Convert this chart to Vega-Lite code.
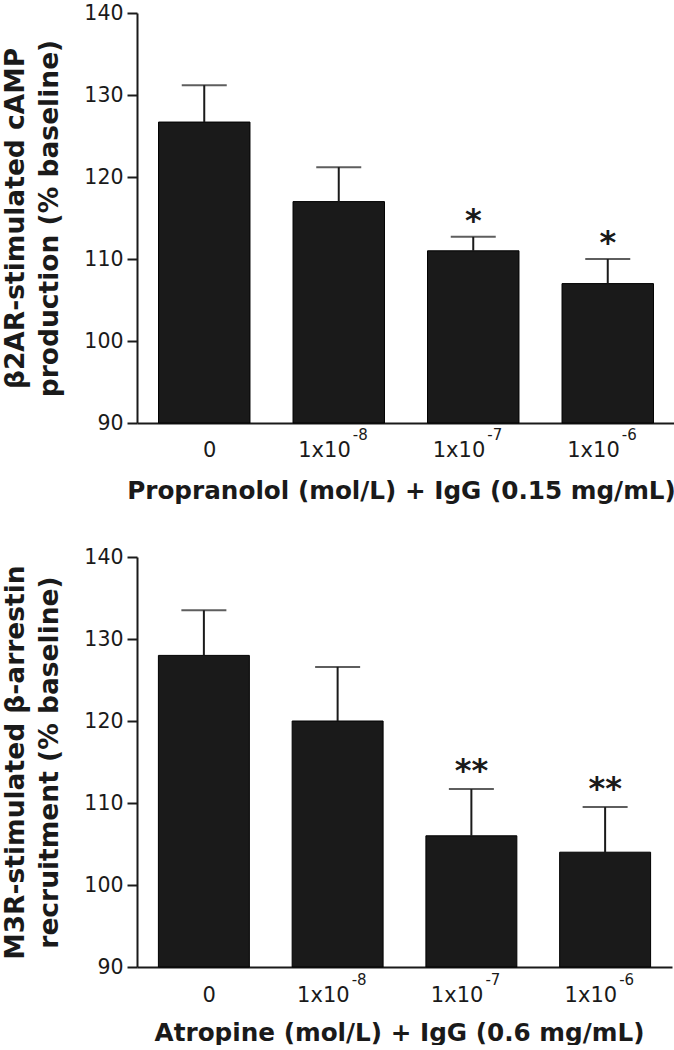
{
  "$schema": "https://vega.github.io/schema/vega-lite/v6.json",
  "padding": {"left": 2, "top": 3, "right": 0, "bottom": 0},
  "background": "white",
  "config": {
    "font": "DejaVu Sans",
    "view": {"stroke": null},
    "axis": {
      "domainColor": "#1a1a1a", "domainWidth": 2, "tickColor": "#1a1a1a", "tickWidth": 2,
      "labelColor": "#1a1a1a", "titleColor": "#1a1a1a",
      "labelFont": "DejaVu Sans", "titleFont": "DejaVu Sans",
      "labelFontSize": 20.5, "titleFontSize": 24.7, "titleFontWeight": "bold", "grid": false
    },
    "concat": {"spacing": 44}
  },
  "datasets": {
    "top": [
      {"dose": "0", "base": "0", "exp": "", "mean": 126.7, "upper": 131.2, "sig": ""},
      {"dose": "1x10^-8", "base": "1x10", "exp": "-8", "mean": 117.0, "upper": 121.2, "sig": ""},
      {"dose": "1x10^-7", "base": "1x10", "exp": "-7", "mean": 111.0, "upper": 112.7, "sig": "*"},
      {"dose": "1x10^-6", "base": "1x10", "exp": "-6", "mean": 107.0, "upper": 110.0, "sig": "*"}
    ],
    "bottom": [
      {"dose": "0", "base": "0", "exp": "", "mean": 128.0, "upper": 133.5, "sig": ""},
      {"dose": "1x10^-8", "base": "1x10", "exp": "-8", "mean": 120.0, "upper": 126.6, "sig": ""},
      {"dose": "1x10^-7", "base": "1x10", "exp": "-7", "mean": 106.0, "upper": 111.7, "sig": "**"},
      {"dose": "1x10^-6", "base": "1x10", "exp": "-6", "mean": 104.0, "upper": 109.5, "sig": "**"}
    ]
  },
  "vconcat": [
    {
      "width": 538, "height": 410,
      "data": {"name": "top"},
      "encoding": {
        "x": {"field": "dose", "type": "nominal", "sort": null,
          "scale": {"paddingInner": 0.32, "paddingOuter": 0.16},
          "axis": {"title": "Propranolol (mol/L) + IgG (0.15 mg/mL)", "labels": false, "ticks": false, "titlePadding": 55, "titleX": 264}}
      },
      "layer": [
        {"mark": {"type": "bar", "color": "#1a1a1a", "stroke": "#000", "strokeWidth": 1},
         "encoding": {"y": {"field": "mean", "type": "quantitative",
           "scale": {"domain": [90, 140], "nice": false, "zero": false},
           "axis": {"title": ["β2AR-stimulated cAMP", "production (% baseline)"], "titleFontSize": 26.5, "values": [90, 100, 110, 120, 130, 140], "tickSize": 10, "titleLineHeight": 34, "titlePadding": 20, "labelPadding": 4}},
           "y2": {"datum": 90}}},
        {"mark": {"type": "rule", "color": "#1a1a1a", "strokeWidth": 2},
         "encoding": {"y": {"field": "mean", "type": "quantitative"}, "y2": {"field": "upper"}}},
        {"mark": {"type": "tick", "color": "#1a1a1a", "size": 45, "thickness": 2},
         "encoding": {"y": {"field": "upper", "type": "quantitative"}}},
        {"mark": {"type": "text", "fontWeight": "bold", "fontSize": 32, "baseline": "alphabetic", "dy": -6, "color": "#1a1a1a"},
         "encoding": {"y": {"field": "upper", "type": "quantitative"}, "text": {"field": "sig"}}},
        {"mark": {"type": "text", "fontSize": 21, "align": "right", "baseline": "alphabetic", "dx": 12, "dy": 34, "color": "#1a1a1a"},
         "encoding": {"y": {"datum": 90}, "text": {"field": "base"}}},
        {"mark": {"type": "text", "fontSize": 15, "align": "left", "baseline": "alphabetic", "dx": 14, "dy": 17, "color": "#1a1a1a"},
         "encoding": {"y": {"datum": 90}, "text": {"field": "exp"}}}
      ]
    },
    {
      "width": 535, "height": 410,
      "data": {"name": "bottom"},
      "encoding": {
        "x": {"field": "dose", "type": "nominal", "sort": null,
          "scale": {"paddingInner": 0.32, "paddingOuter": 0.16},
          "axis": {"title": "Atropine (mol/L) + IgG (0.6 mg/mL)", "labels": false, "ticks": false, "titlePadding": 53, "titleX": 262}}
      },
      "layer": [
        {"mark": {"type": "bar", "color": "#1a1a1a", "stroke": "#000", "strokeWidth": 1},
         "encoding": {"y": {"field": "mean", "type": "quantitative",
           "scale": {"domain": [90, 140], "nice": false, "zero": false},
           "axis": {"title": ["M3R-stimulated β-arrestin", "recruitment (% baseline)"], "titleFontSize": 26.5, "values": [90, 100, 110, 120, 130, 140], "tickSize": 10, "titleLineHeight": 34, "titlePadding": 20, "labelPadding": 4}},
           "y2": {"datum": 90}}},
        {"mark": {"type": "rule", "color": "#1a1a1a", "strokeWidth": 2},
         "encoding": {"y": {"field": "mean", "type": "quantitative"}, "y2": {"field": "upper"}}},
        {"mark": {"type": "tick", "color": "#1a1a1a", "size": 45, "thickness": 2},
         "encoding": {"y": {"field": "upper", "type": "quantitative"}}},
        {"mark": {"type": "text", "fontWeight": "bold", "fontSize": 32, "baseline": "alphabetic", "dy": -8, "color": "#1a1a1a"},
         "encoding": {"y": {"field": "upper", "type": "quantitative"}, "text": {"field": "sig"}}},
        {"mark": {"type": "text", "fontSize": 21, "align": "right", "baseline": "alphabetic", "dx": 12, "dy": 35, "color": "#1a1a1a"},
         "encoding": {"y": {"datum": 90}, "text": {"field": "base"}}},
        {"mark": {"type": "text", "fontSize": 15, "align": "left", "baseline": "alphabetic", "dx": 14, "dy": 18, "color": "#1a1a1a"},
         "encoding": {"y": {"datum": 90}, "text": {"field": "exp"}}}
      ]
    }
  ]
}
